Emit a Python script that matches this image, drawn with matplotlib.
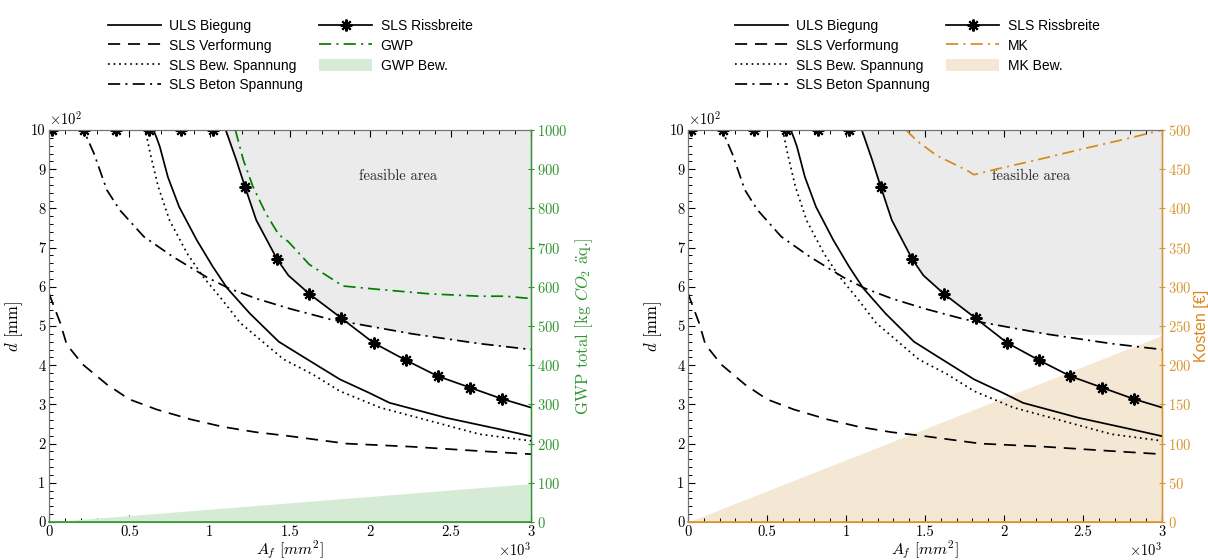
import numpy as np
import matplotlib
matplotlib.use('Agg')
import matplotlib.pyplot as plt
from matplotlib.ticker import MultipleLocator, FuncFormatter
from matplotlib.lines import Line2D
from matplotlib.patches import Patch

plt.rcParams['font.family'] = ['cmr10', 'DejaVu Serif']
plt.rcParams['mathtext.fontset'] = 'cm'
plt.rcParams['axes.formatter.use_mathtext'] = True
plt.rcParams['axes.unicode_minus'] = False

# --- data (A_f in mm^2, d in mm) ---
uls_x = [0, 650, 670, 690, 740, 810, 920, 1020, 1110, 1250, 1430, 1560, 1810, 1990, 2120, 2470, 2800, 3000]
uls_d = [1000, 1000, 980, 957, 880, 804, 719, 651, 596, 532, 460, 427, 364, 330, 304, 266, 237, 219]

verf_x = [0, 70, 110, 210, 360, 500, 670, 880, 1080, 1290, 1480, 1850, 2260, 2680, 3000]
verf_d = [583, 508, 453, 402, 351, 313, 287, 262, 243, 229, 220, 200, 192, 181, 173]

bew_x = [0, 600, 630, 680, 750, 860, 960, 1080, 1190, 1460, 1640, 1810, 2060, 2370, 2680, 3000]
bew_d = [1000, 1000, 940, 855, 770, 685, 625, 566, 508, 415, 377, 334, 292, 258, 224, 207]

beton_x = [0, 215, 280, 360, 440, 590, 770, 980, 1120, 1290, 1500, 1750, 1850, 2260, 2680, 3000]
beton_d = [1000, 1000, 940, 847, 796, 728, 677, 625, 596, 570, 544, 517, 510, 480, 455, 440]

riss_x = [0, 1100, 1166, 1220, 1290, 1420, 1490, 1620, 1820, 2020, 2220, 2420, 2620, 2820, 3000]
riss_d = [1000, 1000, 923, 855, 770, 670, 629, 582, 520, 457, 413, 372, 343, 314, 292]
riss_mx = [20, 220, 420, 620, 820, 1020, 1220, 1420, 1620, 1820, 2020, 2220, 2420, 2620, 2820]
riss_md = [1000, 1000, 1000, 1000, 1000, 1000, 855, 670, 582, 520, 457, 413, 372, 343, 314]

gwp_x = [1160, 1210, 1270, 1350, 1430, 1490, 1620, 1830, 2060, 2370, 2680, 2840, 3000]
gwp_v = [1000, 923, 855, 787, 733, 715, 657, 602, 593, 582, 576, 576, 570]
gwp_bew_x = [0, 3000]
gwp_bew_v = [0, 98]

mk_x = [1380, 1450, 1570, 1680, 1770, 1810, 1950, 2190, 2500, 2780, 3000]
mk_v = [500, 486, 468, 457, 448, 443, 450, 461, 476, 489, 500]
mk_bew_x = [0, 3000]
mk_bew_v = [0, 238]
mk_feasible_floor = 478

GREEN_LINE = '#008000'
GREEN_AX = '#2e962e'
GREEN_FILL = '#d6ebd6'
ORANGE_LINE = '#d98a1c'
ORANGE_AX = '#d9952c'
ORANGE_FILL = '#f4e8d5'
GRAY_FILL = '#ebebeb'

LW = 1.25
DASHED = (0, (7, 4.5))
DOTTED = (0, (1, 2.2))
DASHDOT = (0, (7, 3, 1.2, 3))
MARK = (8, 2, 0)
SANS = ['Liberation Sans', 'DejaVu Sans']


def base_curves(ax):
    h = []
    h.append(ax.plot(uls_x, uls_d, color='k', lw=LW, ls='-', zorder=3)[0])
    h.append(ax.plot(verf_x, verf_d, color='k', lw=LW, ls=DASHED, zorder=3)[0])
    h.append(ax.plot(bew_x, bew_d, color='k', lw=LW, ls=DOTTED, zorder=3)[0])
    h.append(ax.plot(beton_x, beton_d, color='k', lw=LW, ls=DASHDOT, zorder=3)[0])
    ax.plot(riss_x, riss_d, color='k', lw=LW, zorder=3)
    ax.plot(riss_mx, riss_md, ls='none', marker=MARK, ms=8.5, mew=1.5, color='k', zorder=4)
    h.append(Line2D([], [], color='k', lw=LW, marker=MARK, ms=8.5, mew=1.5))
    return h


def style_axes(ax, ax2, col_ax):
    ax.set_xlim(0, 3000)
    ax.set_ylim(0, 1000)
    ax.xaxis.set_major_locator(MultipleLocator(500))
    ax.xaxis.set_minor_locator(MultipleLocator(100))
    ax.yaxis.set_major_locator(MultipleLocator(100))
    ax.yaxis.set_minor_locator(MultipleLocator(20))
    ax.xaxis.set_major_formatter(FuncFormatter(lambda v, p: f'{v / 1000:g}'))
    ax.yaxis.set_major_formatter(FuncFormatter(lambda v, p: f'{v / 100:g}'))
    ax.tick_params(which='both', direction='in', top=True, right=False, labelsize=10.5, pad=2.5)
    ax.tick_params(which='major', length=5, width=0.8)
    ax.tick_params(which='minor', length=3, width=0.7)
    for s in ['top', 'left']:
        ax.spines[s].set_color('0.45')
        ax2.spines[s].set_color('0.45')
    ax.spines['bottom'].set_color(col_ax)
    ax2.spines['bottom'].set_color(col_ax)
    ax2.spines['bottom'].set_linewidth(1.2)
    ax2.spines['right'].set_color(col_ax)
    ax2.spines['right'].set_linewidth(1.0)
    ax2.tick_params(axis='y', colors=col_ax, direction='inout', length=5, labelsize=10.5, pad=2)
    ax.set_xlabel(r'$A_f\ [mm^2]$', fontsize=11.5, labelpad=0)
    ax.set_ylabel(r'$d$ [mm]', fontsize=12, labelpad=4)
    ax.text(0.0, 1.006, r'$\times10^2$', transform=ax.transAxes, ha='left', va='bottom', fontsize=10.5)
    ax.text(1.0, -0.07, r'$\times10^3$', transform=ax.transAxes, ha='right', va='center', fontsize=10.5)
    ax.text(2170, 883, 'feasible area', ha='center', va='center', fontsize=10.5, color='0.15')


grid = np.linspace(0, 3000, 601)
lower = np.maximum(np.interp(grid, riss_x, riss_d), np.interp(grid, beton_x, beton_d))

fig = plt.figure(figsize=(12.08, 5.6), dpi=100)
axL = fig.add_axes([49 / 1208, 38 / 560, 482 / 1208, 392 / 560])
axR = fig.add_axes([688 / 1208, 38 / 560, 474 / 1208, 392 / 560])

leg_kw = dict(ncol=2, frameon=False, prop={'family': SANS, 'size': 10},
              handlelength=3.8, handletextpad=0.6, labelspacing=0.42, columnspacing=1.2,
              borderpad=0, loc='upper left', numpoints=1, handleheight=0.9)

# ---- left panel: GWP ----
axL.fill_between(grid, lower, 1000, where=lower < 1000, color=GRAY_FILL, lw=0, zorder=0)
hL = base_curves(axL)
axL2 = axL.twinx()
axL2.fill_between(gwp_bew_x, 0, gwp_bew_v, color=GREEN_FILL, lw=0, zorder=0)
gl, = axL2.plot(gwp_x, gwp_v, color=GREEN_LINE, lw=LW, ls=DASHDOT)
axL2.set_ylim(0, 1000)
axL2.yaxis.set_major_locator(MultipleLocator(100))
axL2.set_ylabel(r'GWP total [kg $CO_2$ $\ddot{\mathrm{a}}$q.]', color=GREEN_AX, fontsize=12, labelpad=4)
style_axes(axL, axL2, GREEN_AX)
handles = hL + [gl, Patch(facecolor=GREEN_FILL, edgecolor='none')]
labels = ['ULS Biegung', 'SLS Verformung', 'SLS Bew. Spannung', 'SLS Beton Spannung',
          'SLS Rissbreite', 'GWP', 'GWP Bew.']
fig.legend(handles, labels, bbox_to_anchor=(101 / 1208, 1 - 12 / 560), **leg_kw)

# ---- right panel: costs ----
lowerR = np.maximum(lower, mk_feasible_floor)
axR.fill_between(grid, lowerR, 1000, where=lowerR < 1000, color=GRAY_FILL, lw=0, zorder=0)
hR = base_curves(axR)
axR2 = axR.twinx()
axR2.set_ylim(0, 500)
axR.fill_between(mk_bew_x, 0, mk_bew_v, color=ORANGE_FILL, lw=0, zorder=0.5, transform=axR2.transData)
ml, = axR2.plot(mk_x, mk_v, color=ORANGE_LINE, lw=LW, ls=DASHDOT)
axR2.yaxis.set_major_locator(MultipleLocator(50))
axR2.set_ylabel('Kosten [€]', color=ORANGE_LINE, fontsize=11.5, labelpad=2, family=SANS)
style_axes(axR, axR2, ORANGE_AX)
handles = hR + [ml, Patch(facecolor=ORANGE_FILL, edgecolor='none')]
labels = ['ULS Biegung', 'SLS Verformung', 'SLS Bew. Spannung', 'SLS Beton Spannung',
          'SLS Rissbreite', 'MK', 'MK Bew.']
fig.legend(handles, labels, bbox_to_anchor=(728 / 1208, 1 - 12 / 560), **leg_kw)

fig.savefig('out.png', dpi=100)
